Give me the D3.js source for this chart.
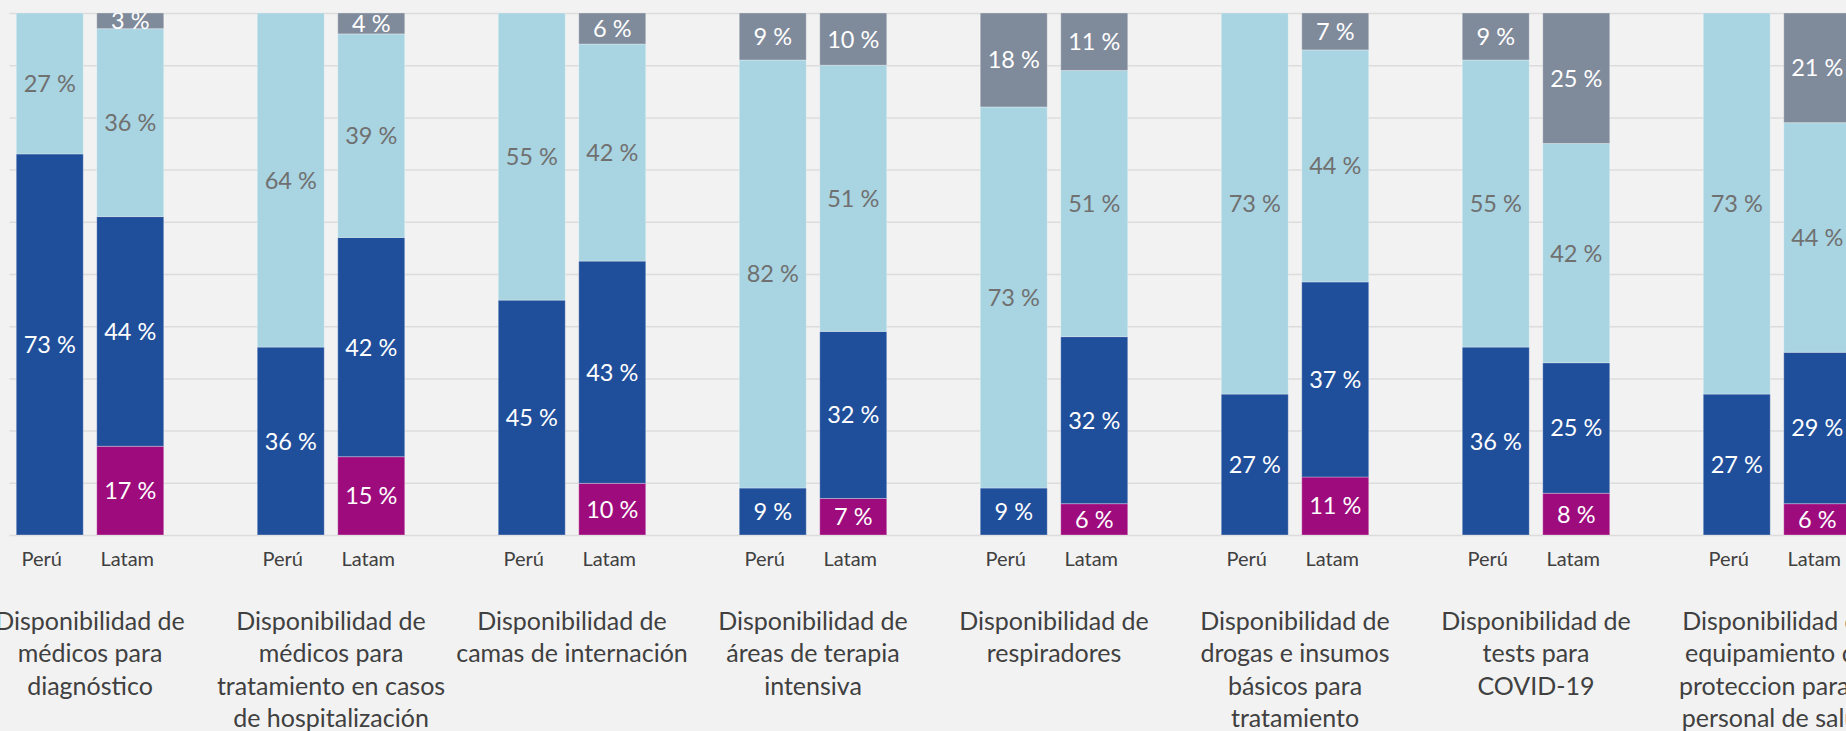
<!DOCTYPE html>
<html>
<head>
<meta charset="utf-8">
<script src="https://cdn.jsdelivr.net/npm/d3@7"></script>
<style>
  html, body { margin: 0; padding: 0; background: #f2f2f2; }
  svg { display: block; font-family: Lato, "Open Sans", sans-serif; }
</style>
</head>
<body>
<svg id="chart"></svg>
<script>
// Chart data (percent values)
var categoryLines = [
    ["Disponibilidad de", "médicos para", "diagnóstico"],
    ["Disponibilidad de", "médicos para", "tratamiento en casos", "de hospitalización"],
    ["Disponibilidad de", "camas de internación"],
    ["Disponibilidad de", "áreas de terapia", "intensiva"],
    ["Disponibilidad de", "respiradores"],
    ["Disponibilidad de", "drogas e insumos", "básicos para", "tratamiento"],
    ["Disponibilidad de", "tests para", "COVID-19"],
    ["Disponibilidad de", "equipamiento de", "proteccion para el", "personal de salud"]
];
var seriesNames = ["Perú", "Latam"];
var keys = ["seg1", "seg2", "seg3", "seg4"];   // bottom to top

var peruSeg1 = [0, 0, 0, 0, 0, 0, 0, 0];
var peruSeg2 = [73, 36, 45, 9, 9, 27, 36, 27];
var peruSeg3 = [27, 64, 55, 82, 73, 73, 55, 73];
var peruSeg4 = [0, 0, 0, 9, 18, 0, 9, 0];

var latamSeg1 = [17, 15, 10, 7, 6, 11, 8, 6];
var latamSeg2 = [44, 42, 43, 32, 32, 37, 25, 29];
var latamSeg3 = [36, 39, 42, 51, 51, 44, 42, 44];
var latamSeg4 = [3, 4, 6, 10, 11, 7, 25, 21];

var yTicks = [0, 0.1, 0.2, 0.3, 0.4, 0.5, 0.6, 0.7, 0.8, 0.9, 1];

// Layout
var width = 1846, height = 731;
var plotTop = 13, plotBottom = 535;
var colors = { seg1: "#9e0b7d", seg2: "#1f4e9b", seg3: "#a9d4e1", seg4: "#7f8a9b" };
var labelColors = { seg1: "#ffffff", seg2: "#ffffff", seg3: "#707070", seg4: "#ffffff" };
var axisOffset = { "Perú": -8, "Latam": -3 };   // Excel draws the names a bit left of the bar centre

var svg = d3.select("#chart").attr("width", width).attr("height", height);
svg.append("rect").attr("width", width).attr("height", height).attr("fill", "#f2f2f2");

// Build one row per category and series
var cats = categoryLines.map(function (d, i) { return "c" + i; });
var rows = [];
cats.forEach(function (c, i) {
    rows.push({ cat: c, ser: "Perú", seg1: peruSeg1[i], seg2: peruSeg2[i], seg3: peruSeg3[i], seg4: peruSeg4[i] });
    rows.push({ cat: c, ser: "Latam", seg1: latamSeg1[i], seg2: latamSeg2[i], seg3: latamSeg3[i], seg4: latamSeg4[i] });
});

// 100% stacked, like the original spreadsheet chart
var stacked = d3.stack().keys(keys).offset(d3.stackOffsetExpand)(rows);

var x0 = d3.scaleBand().domain(cats).range([-30.5, 1897.5]).paddingInner(0.388).paddingOuter(0.194);
var x1 = d3.scaleBand().domain(seriesNames).range([0, x0.bandwidth()]).paddingInner(0.168);
var y = d3.scaleLinear().domain([0, 1]).range([plotBottom, plotTop]);

// Gridlines
var grid = svg.append("g")
    .attr("transform", "translate(9.5,0)")
    .call(d3.axisRight(y).tickValues(yTicks).tickSize(width).tickFormat(""));
grid.select(".domain").remove();
grid.selectAll("line").attr("stroke", "#dcdcdc").attr("stroke-width", 1.5);

// Bars
var layers = svg.append("g").selectAll("g.layer")
    .data(stacked)
    .enter().append("g")
    .attr("class", "layer")
    .attr("fill", function (d) { return colors[d.key]; });

layers.selectAll("rect")
    .data(function (d) { return d; })
    .enter().append("rect")
    .attr("x", function (d) { return x0(d.data.cat) + x1(d.data.ser); })
    .attr("width", x1.bandwidth())
    .attr("y", function (d) { return y(d[1]); })
    .attr("height", function (d) { return y(d[0]) - y(d[1]); })
    .attr("stroke", "rgba(255,255,255,0.3)")
    .attr("stroke-width", 1);

// Data labels, clipped to the plot area
svg.append("clipPath").attr("id", "plotClip")
    .append("rect").attr("x", 0).attr("y", plotTop).attr("width", width).attr("height", plotBottom - plotTop + 20);

var labels = svg.append("g").attr("clip-path", "url(#plotClip)");
stacked.forEach(function (layer) {
    labels.selectAll(null)
        .data(layer.filter(function (d) { return d.data[layer.key] > 0; }))
        .enter().append("text")
        .attr("x", function (d) { return x0(d.data.cat) + x1(d.data.ser) + x1.bandwidth() / 2; })
        .attr("y", function (d) { return (y(d[0]) + y(d[1])) / 2; })
        .attr("dy", "0.36em")
        .attr("text-anchor", "middle")
        .attr("font-size", 23.5)
        .attr("fill", labelColors[layer.key])
        .text(function (d) { return d.data[layer.key] + " %"; });
});

// Series names under each bar
var axisG = svg.append("g");
cats.forEach(function (c) {
    axisG.selectAll(null)
        .data(seriesNames)
        .enter().append("text")
        .attr("x", function (s) { return x0(c) + x1(s) + x1.bandwidth() / 2 + axisOffset[s]; })
        .attr("y", 566)
        .attr("text-anchor", "middle")
        .attr("font-size", 20)
        .attr("fill", "#404040")
        .text(function (s) { return s; });
});

// Category names
var catText = svg.append("g").selectAll("text")
    .data(cats)
    .enter().append("text")
    .attr("text-anchor", "middle")
    .attr("font-size", 25)
    .attr("fill", "#404040")
    .attr("transform", function (c) { return "translate(" + (x0(c) + x0.bandwidth() / 2) + ",630)"; });

catText.selectAll("tspan")
    .data(function (c, i) { return categoryLines[i]; })
    .enter().append("tspan")
    .attr("x", 0)
    .attr("y", function (d, i) { return i * 32.3; })
    .text(function (d) { return d; });
</script>
</body>
</html>
